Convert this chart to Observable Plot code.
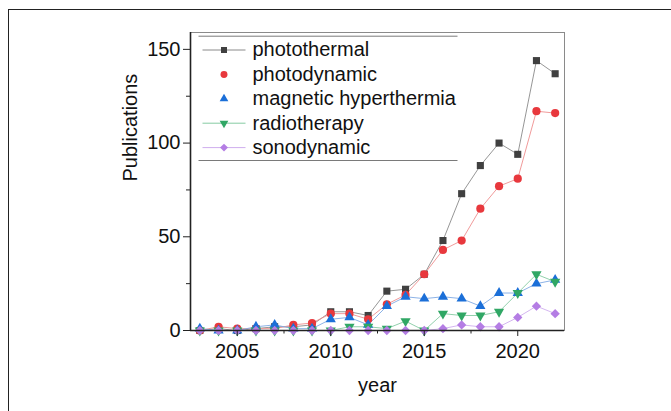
<!DOCTYPE html>
<html>
<head>
<meta charset="utf-8">
<script src="https://cdn.jsdelivr.net/npm/d3@7"></script>
<script src="https://cdn.jsdelivr.net/npm/@observablehq/plot@0.6"></script>
<style>
  html, body { margin: 0; padding: 0; background: #fff; overflow: hidden; width: 671px; height: 411px; }
  #border { position: absolute; left: 8px; top: 9px; width: 720px; height: 460px; border: 1.6px solid #222; box-sizing: border-box; }
  #chart { position: absolute; left: 0; top: 0; }
</style>
</head>
<body>
<div id="border"></div>
<div id="chart"></div>
<script>
const years = [2003,2004,2005,2006,2007,2008,2009,2010,2011,2012,2013,2014,2015,2016,2017,2018,2019,2020,2021,2022];
const photothermal = [0,1,0,1,2,2,3,10,10,8,21,22,30,48,73,88,100,94,144,137];
const photodynamic = [0,2,1,1,1,3,4,9,9,6,14,19,30,43,48,65,77,81,117,116];
const magneticHyperthermia = [1,0,0,2,3,1,1,6,7,3,13,18,17,18,17,13,20,20,25,27];
const radiotherapy = [0,0,0,0,0,0,0,0,2,2,1,5,0,9,8,8,10,20,30,26];
const sonodynamic = [0,0,0,0,0,0,0,0,0,0,0,0,0,1,3,2,2,7,13,9];

const seriesNames = ["photothermal","photodynamic","magnetic hyperthermia","radiotherapy","sonodynamic"];
const seriesValues = [photothermal, photodynamic, magneticHyperthermia, radiotherapy, sonodynamic];
const xTicks = [2005, 2010, 2015, 2020];
const xMinorTicks = [2007.5, 2012.5, 2017.5];
const yTicks = [0, 50, 100, 150];
const yMinorTicks = [25, 75, 125];

const sqrt3 = Math.sqrt(3);
const triDown = { draw(ctx, size) {
  const y = -Math.sqrt(size / (sqrt3 * 3));
  ctx.moveTo(0, -y * 2); ctx.lineTo(-sqrt3 * y, y); ctx.lineTo(sqrt3 * y, y); ctx.closePath();
}};
const hline = (x0, len) => ({ draw(ctx) { ctx.moveTo(x0, 0); ctx.lineTo(x0 + len, 0); } });

const styles = [
  {marker: "#404040", line: "#8a8a8a", symbol: d3.symbolSquare, r: 4.0, legendLine: true},
  {marker: "#e8383d", line: "#ee8f8f", symbol: d3.symbolCircle, r: 4.1, legendLine: false},
  {marker: "#1b6fd8", line: "#7fa9e3", symbol: d3.symbolTriangle, r: 3.8, legendLine: false},
  {marker: "#30a765", line: "#86cba3", symbol: triDown, r: 3.8, legendLine: true},
  {marker: "#b47de4", line: "#cfaeee", symbol: d3.symbolDiamond2 || "diamond", r: 4.2, legendLine: true}
];

const table = [];
seriesNames.forEach((name, si) => {
  years.forEach((yr, i) => table.push({series: name, si, year: yr, value: seriesValues[si][i]}));
});

const marks = [];
seriesNames.forEach((name, si) => {
  marks.push(Plot.line(table.filter(d => d.si === si), {x: "year", y: "value", stroke: styles[si].line, strokeWidth: 0.9}));
});
seriesNames.forEach((name, si) => {
  marks.push(Plot.dot(table.filter(d => d.si === si), {x: "year", y: "value", fill: styles[si].marker, stroke: "none", symbol: styles[si].symbol, r: styles[si].r}));
});

marks.push(Plot.frame({stroke: "#8a8a8a", strokeWidth: 1}));
marks.push(Plot.ruleY([0], {stroke: "#222", strokeWidth: 1.6}));
marks.push(Plot.ruleX([2002.5], {stroke: "#222", strokeWidth: 1.6}));

marks.push(Plot.axisX({ticks: xTicks, tickFormat: d => String(d), tickSize: 6, tickPadding: 7, fontSize: 20, label: null, stroke: "#222", fill: "#111"}));
marks.push(Plot.axisX({ticks: xMinorTicks, tickFormat: () => "", tickSize: 3.5, label: null, stroke: "#222"}));
marks.push(Plot.axisY({ticks: yTicks, tickSize: 7, tickPadding: 3, fontSize: 20, label: null, stroke: "#222", fill: "#111"}));
marks.push(Plot.axisY({ticks: yMinorTicks, tickFormat: () => "", tickSize: 4, label: null, stroke: "#222"}));

marks.push(Plot.text(["year"], {frameAnchor: "bottom", dy: 55, fontSize: 20, fill: "#111", text: d => d, lineAnchor: "middle"}));
marks.push(Plot.text(["Publications"], {frameAnchor: "left", dx: -60, rotate: -90, fontSize: 20, fill: "#111", text: d => d, lineAnchor: "middle"}));

marks.push(Plot.dot([0], {frameAnchor: "top-left", dx: 8, dy: 3.7, symbol: hline(0, 259), stroke: "#7a7a7a", strokeWidth: 1, fill: "none"}));
marks.push(Plot.dot([0], {frameAnchor: "top-left", dx: 8, dy: 128, symbol: hline(0, 259), stroke: "#7a7a7a", strokeWidth: 1, fill: "none"}));
seriesNames.forEach((name, si) => {
  const dy = 17.5 + si * 24.4;
  if (styles[si].legendLine) {
    marks.push(Plot.dot([0], {frameAnchor: "top-left", dx: 12, dy, symbol: hline(0, 43), stroke: styles[si].line, strokeWidth: 1, fill: "none"}));
  }
  marks.push(Plot.dot([0], {frameAnchor: "top-left", dx: 33.5, dy, symbol: styles[si].symbol, r: styles[si].r * 0.85, fill: styles[si].marker, stroke: "none"}));
  marks.push(Plot.text([name], {frameAnchor: "top-left", dx: 62, dy, text: d => d, textAnchor: "start", lineAnchor: "middle", fontSize: 20, fill: "#111"}));
});

const chart = Plot.plot({
  width: 671,
  height: 411,
  marginLeft: 190,
  marginRight: 107,
  marginTop: 32,
  marginBottom: 81,
  style: {fontFamily: "'Liberation Sans', Arial, sans-serif", fontSize: "20px", background: "transparent", color: "#111"},
  x: {domain: [2002.5, 2022.5], axis: null},
  y: {domain: [0, 159], axis: null},
  marks
});
document.getElementById("chart").appendChild(chart);
</script>
</body>
</html>
